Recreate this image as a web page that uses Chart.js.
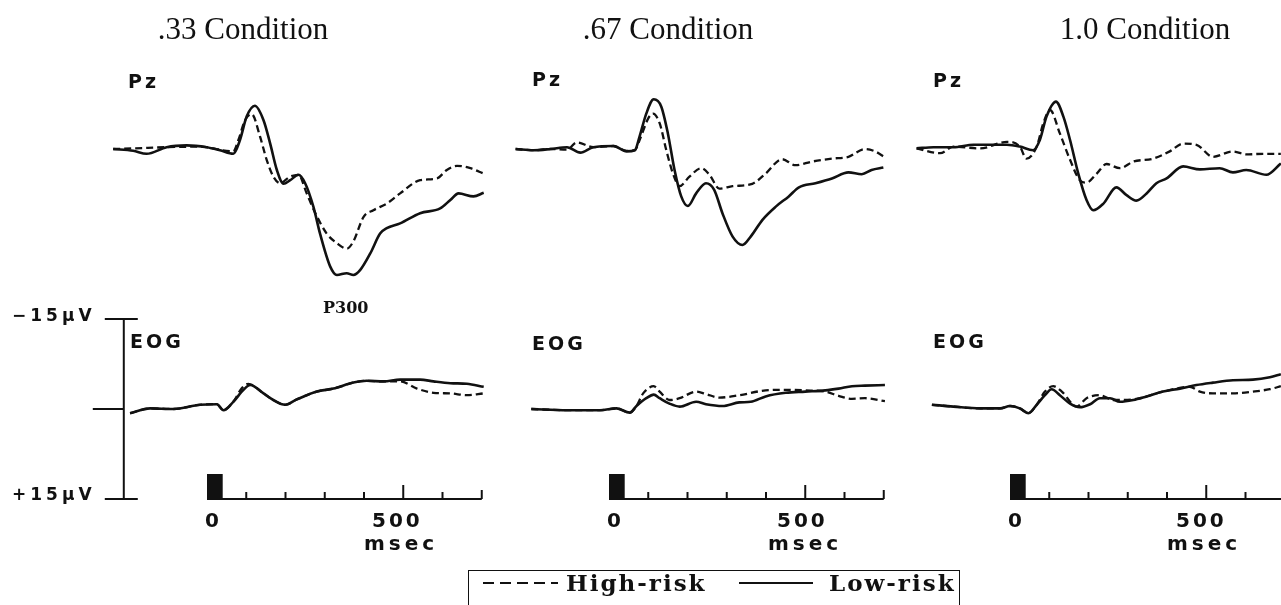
<!DOCTYPE html>
<html>
<head>
<meta charset="utf-8">
<script src="https://cdn.jsdelivr.net/npm/chart.js@4.4.1/dist/chart.umd.min.js"></script>
<style>
  body { margin: 0; background: #fff; overflow: hidden; }
  #wrap { position: absolute; left: 0; top: 0; width: 1281px; height: 605px; }
  .title { position: absolute; top: 13px; width: 300px; text-align: center;
           font: 31px "Liberation Serif", serif; line-height: 1; color: #111; white-space: nowrap; }
  .lab { position: absolute; font: bold 19px "DejaVu Sans", sans-serif; letter-spacing: 3px;
         line-height: 1; color: #111; white-space: nowrap; }
  .num { font-size: 20px; letter-spacing: 3px; }
  .unit { font-size: 20px; letter-spacing: 4px; }
  .cal { font-size: 17px; letter-spacing: 4px; }
  .p300 { position: absolute; font: bold 16px "DejaVu Serif", serif; line-height: 1; color: #111; }
  #legend { position: absolute; left: 468px; top: 570px; width: 490px; height: 60px;
            border: 1.5px solid #111; }
  .leg { position: absolute; top: 0px; font: bold 23px "DejaVu Serif", serif; letter-spacing: 2px;
         line-height: 1; color: #111; white-space: nowrap; }
  #legend svg { position: absolute; left: 0; top: 0; }
</style>
</head>
<body>
<div id="wrap"><canvas id="erp"></canvas></div>

<div class="title" style="left:93px">.33 Condition</div>
<div class="title" style="left:518px">.67 Condition</div>
<div class="title" style="left:995px">1.0 Condition</div>

<div class="lab" style="left:128px;top:72px">Pz</div>
<div class="lab" style="left:532px;top:70px">Pz</div>
<div class="lab" style="left:933px;top:71px">Pz</div>

<div class="lab" style="left:130px;top:332px">EOG</div>
<div class="lab" style="left:532px;top:334px">EOG</div>
<div class="lab" style="left:933px;top:332px">EOG</div>

<div class="p300" style="left:323px;top:300px">P300</div>
<div class="lab cal" style="left:12px;top:307px">−15µV</div>
<div class="lab cal" style="left:12px;top:486px">+15µV</div>

<div class="lab num" style="left:205px;top:510px">0</div>
<div class="lab num" style="left:372px;top:510px">500</div>
<div class="lab unit" style="left:364px;top:533px">msec</div>
<div class="lab num" style="left:607px;top:510px">0</div>
<div class="lab num" style="left:777px;top:510px">500</div>
<div class="lab unit" style="left:768px;top:533px">msec</div>
<div class="lab num" style="left:1008px;top:510px">0</div>
<div class="lab num" style="left:1176px;top:510px">500</div>
<div class="lab unit" style="left:1167px;top:533px">msec</div>

<div id="legend">
  <svg width="490" height="40">
    <line x1="14" y1="12" x2="89" y2="12" stroke="#111" stroke-width="2" stroke-dasharray="11,6"/>
    <line x1="270" y1="12" x2="344" y2="12" stroke="#111" stroke-width="2"/>
  </svg>
  <div class="leg" style="left:97px">High-risk</div>
  <div class="leg" style="left:360px">Low-risk</div>
</div>

<script>
// time in msec, amplitude in microvolts (negative plotted up)
const pz33High = [[-239,0],[-188,-0.1],[-103,-0.3],[-18,-0.4],[67,0.4],[80,-1.5],[97,-4.8],[114,-5.8],[135,-2.1],[152,1.8],[169,4.6],[186,5.7],[212,4.6],[233,4.3],[254,7.4],[276,10.7],[305,14.1],[331,15.7],[356,16.6],[373,15.4],[399,11.3],[424,10.2],[458,9.1],[492,7.4],[543,5.2],[586,4.9],[611,3.5],[637,2.8],[671,3.2],[705,4.1]];
const pz33Low = [[-239,0],[-188,0.3],[-154,0.8],[-103,-0.3],[-52,-0.6],[-1,-0.3],[33,0.2],[67,0.8],[84,-1.5],[101,-5.4],[122,-7.2],[144,-4.8],[161,-0.9],[178,3.5],[195,5.8],[212,5.2],[233,4.3],[250,5.7],[271,9.6],[288,14.1],[314,19.6],[331,21],[356,20.7],[373,21],[390,20.2],[416,17.4],[441,14.1],[458,13.2],[492,12.4],[543,10.7],[594,9.9],[620,8.5],[641,7.4],[679,7.9],[705,7.3]];
const eog33High = [[-196,0.7],[-145,-0.1],[-86,0],[-18,-0.7],[25,-0.8],[42,0.2],[67,-1.2],[88,-3.4],[105,-4.2],[144,-2.6],[169,-1.5],[199,-0.7],[229,-1.6],[280,-2.9],[322,-3.4],[373,-4.4],[407,-4.7],[450,-4.6],[492,-4.6],[535,-3.4],[577,-2.7],[620,-2.6],[662,-2.3],[705,-2.6]];
const eog33Low = [[-196,0.7],[-145,-0.1],[-86,0],[-18,-0.7],[25,-0.8],[42,0.2],[67,-1.2],[93,-3.2],[110,-4],[144,-2.6],[169,-1.5],[199,-0.7],[229,-1.6],[280,-2.9],[322,-3.4],[373,-4.4],[407,-4.7],[450,-4.6],[492,-4.9],[543,-4.9],[577,-4.6],[620,-4.3],[662,-4.2],[705,-3.7]];

const pz67High = [[-238,0],[-192,0.2],[-149,0],[-107,0.1],[-82,-1.1],[-40,-0.3],[11,-0.5],[45,0.3],[66,0.2],[78,-1.5],[100,-5.1],[112,-5.9],[129,-4.3],[146,0.2],[163,4.1],[180,6.2],[205,4.6],[235,3.2],[256,4.3],[281,6.6],[315,6.2],[365,5.8],[399,4.1],[441,1.7],[475,2.7],[517,2.1],[568,1.6],[610,1.3],[652,0],[678,0.4],[703,1.4]];
const pz67Low = [[-238,0],[-192,0.2],[-149,0],[-107,-0.3],[-73,0.6],[-40,-0.3],[11,-0.5],[45,0.4],[66,0.2],[78,-2.1],[95,-5.9],[114,-8.3],[133,-7.1],[150,-2.6],[167,3.5],[184,7.9],[201,9.5],[222,7.4],[247,5.7],[268,6.8],[289,10.7],[315,14.6],[340,16],[361,14.6],[391,11.8],[425,9.6],[458,7.9],[484,6.4],[526,5.7],[568,4.9],[610,3.9],[644,4.2],[669,3.5],[699,3.1]];
const eog67High = [[-198,0],[-107,0.2],[-23,0.2],[19,-0.1],[53,0.6],[70,-0.5],[87,-2.6],[114,-3.8],[129,-2.9],[154,-1.5],[180,-1.8],[222,-2.9],[247,-2.5],[281,-1.9],[332,-2.3],[399,-3.1],[450,-3.2],[500,-3.1],[551,-2.9],[585,-2.2],[619,-1.7],[652,-1.8],[703,-1.3]];
const eog67Low = [[-198,0],[-107,0.2],[-23,0.2],[19,-0.1],[53,0.6],[70,-0.5],[95,-1.8],[114,-2.4],[129,-1.8],[154,-0.9],[180,-0.4],[222,-1.2],[247,-0.8],[289,-0.5],[332,-1.1],[361,-1.2],[399,-2.1],[450,-2.7],[500,-2.9],[551,-3.1],[585,-3.4],[619,-3.8],[652,-3.9],[703,-4]];

const pz10High = [[-238,-0.1],[-178,0.7],[-144,-0.4],[-76,-0.1],[-8,-1.2],[25,-0.4],[42,1.6],[68,-0.4],[85,-4.3],[102,-6.5],[127,-2.6],[153,1.8],[178,5.2],[195,5.6],[221,4.1],[246,2.5],[280,3.2],[314,2.1],[365,1.6],[407,0.4],[441,-0.9],[475,-0.7],[517,1.3],[568,0.4],[602,0.9],[645,0.8],[690,0.8]];
const pz10Low = [[-238,-0.1],[-195,-0.3],[-144,-0.3],[-93,-0.7],[-51,-0.7],[-8,-0.7],[25,-0.4],[59,0.2],[76,-1.5],[93,-5.4],[117,-7.9],[136,-5.4],[153,-1.5],[174,4.1],[195,8.5],[212,10.2],[238,9.1],[271,6.4],[297,7.7],[322,8.6],[348,7.4],[373,5.7],[399,4.9],[441,2.9],[484,3.4],[534,3.2],[568,3.9],[602,3.5],[653,4.3],[690,2.4]];
const eog10High = [[-199,-0.7],[-144,-0.4],[-76,-0.1],[-25,-0.1],[0,-0.5],[25,-0.1],[47,0.7],[68,-0.7],[89,-2.9],[110,-3.8],[132,-2.9],[170,-0.4],[195,-1.8],[229,-2.3],[263,-1.5],[314,-1.6],[390,-2.9],[458,-3.7],[484,-2.9],[517,-2.6],[568,-2.6],[619,-2.9],[662,-3.3],[690,-3.8]];
const eog10Low = [[-199,-0.7],[-144,-0.4],[-76,-0.1],[-25,-0.1],[0,-0.5],[25,-0.1],[47,0.7],[68,-0.7],[89,-2.3],[106,-3.3],[127,-2.3],[153,-0.9],[178,-0.3],[204,-0.8],[229,-1.8],[255,-1.8],[280,-1.2],[314,-1.5],[348,-2.1],[390,-2.9],[433,-3.4],[475,-4],[517,-4.4],[568,-4.8],[619,-4.9],[662,-5.3],[690,-5.8]];

const timeTicks = [0, 100, 200, 300, 400, 500, 600, 700];
const stimulus = [0, 40];      // msec, filled bar at stimulus onset
const calibration = [-15, 0, 15]; // microvolts

const ink = '#111';
const W = 1281, H = 605;
const pxPerMs = 0.3925, pxPerUv = 6;

// where 0 msec sits in each panel, and where 0 uV sits for each channel
const panels = [
  { id: 'x33', origin: 207, pz: pz33High, pzL: pz33Low, eog: eog33High, eogL: eog33Low },
  { id: 'x67', origin: 609, pz: pz67High, pzL: pz67Low, eog: eog67High, eogL: eog67Low },
  { id: 'x10', origin: 1010, pz: pz10High, pzL: pz10Low, eog: eog10High, eogL: eog10Low }
];
const pzZero = 149, eogZero = 409;

const toXY = arr => arr.map(p => ({ x: p[0], y: p[1] }));

function trace(data, xID, yID, dashed) {
  return {
    data: toXY(data),
    xAxisID: xID,
    yAxisID: yID,
    showLine: true,
    borderColor: ink,
    borderWidth: dashed ? 2.3 : 2.6,
    borderDash: dashed ? [7, 4] : [],
    pointRadius: 0,
    cubicInterpolationMode: 'monotone',
    fill: false
  };
}

const scales = {
  yPz: { type: 'linear', display: false, reverse: true, min: -pzZero / pxPerUv, max: (H - pzZero) / pxPerUv },
  yEog: { type: 'linear', display: false, reverse: true, min: -eogZero / pxPerUv, max: (H - eogZero) / pxPerUv }
};
const datasets = [];
panels.forEach(p => {
  scales[p.id] = { type: 'linear', display: false, min: -p.origin / pxPerMs, max: (W - p.origin) / pxPerMs };
  datasets.push(trace(p.pz, p.id, 'yPz', true));
  datasets.push(trace(p.pzL, p.id, 'yPz', false));
  datasets.push(trace(p.eog, p.id, 'yEog', true));
  datasets.push(trace(p.eogL, p.id, 'yEog', false));
});

// calibration bar and time axes drawn off the same scales
const decorations = {
  id: 'decorations',
  afterDatasetsDraw(chart) {
    const ctx = chart.ctx;
    const yE = chart.scales.yEog;
    const line = (x1, y1, x2, y2) => { ctx.beginPath(); ctx.moveTo(x1, y1); ctx.lineTo(x2, y2); ctx.stroke(); };
    ctx.save();
    ctx.strokeStyle = ink;
    ctx.fillStyle = ink;
    ctx.lineWidth = 2;

    const cx = chart.scales.x33.getPixelForValue(-212);
    const top = yE.getPixelForValue(calibration[0]);
    const mid = yE.getPixelForValue(calibration[1]);
    const bot = yE.getPixelForValue(calibration[2]);
    line(cx, top, cx, bot);
    line(cx - 19, top, cx + 14, top);
    line(cx - 19, bot, cx + 14, bot);
    line(cx - 31, mid, cx, mid);

    panels.forEach(p => {
      const s = chart.scales[p.id];
      const x = t => s.getPixelForValue(t);
      line(x(timeTicks[0]), bot, x(timeTicks[timeTicks.length - 1]), bot);
      ctx.fillRect(x(stimulus[0]), bot - 25, x(stimulus[1]) - x(stimulus[0]), 25);
      timeTicks.slice(1).forEach(t => {
        const len = t === 500 ? 14 : (t === 700 ? 9 : 7);
        line(x(t), bot, x(t), bot - len);
      });
    });
    ctx.restore();
  }
};

new Chart(document.getElementById('erp'), {
  type: 'scatter',
  data: { datasets: datasets },
  options: {
    responsive: true,
    maintainAspectRatio: false,
    animation: false,
    layout: { padding: 0 },
    scales: scales,
    plugins: { legend: { display: false }, tooltip: { enabled: false } }
  },
  plugins: [decorations]
});
</script>
</body>
</html>
